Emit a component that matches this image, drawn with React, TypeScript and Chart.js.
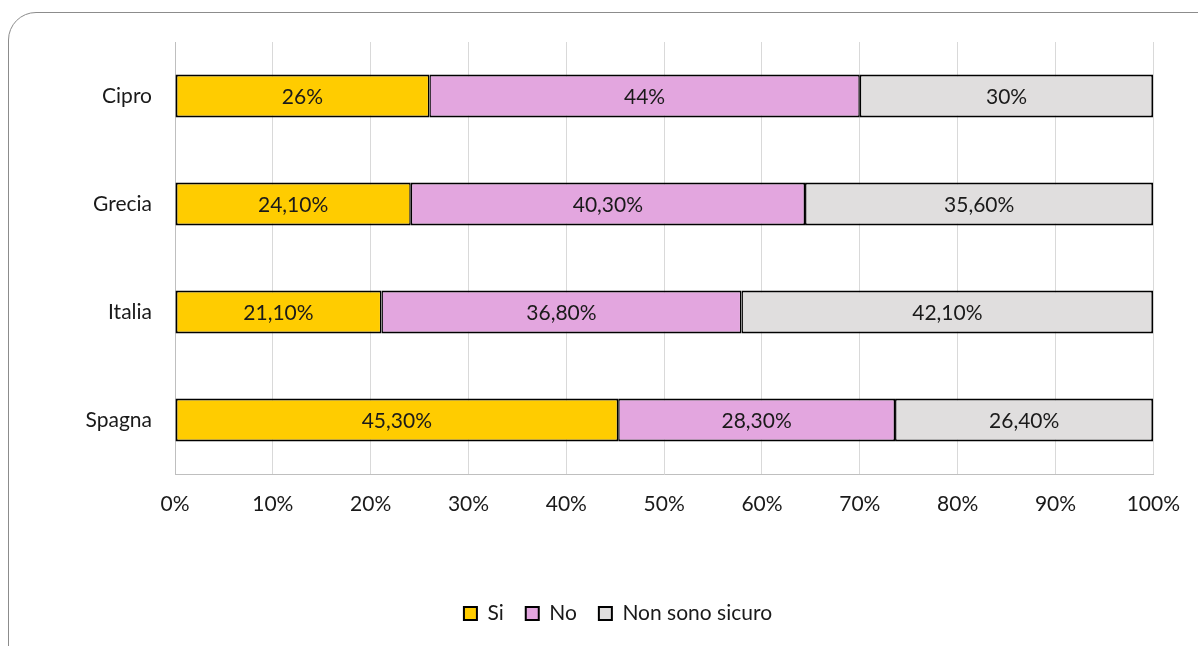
import { useEffect, useRef } from 'react';
import { Chart, registerables } from 'chart.js';

Chart.register(...registerables);

// Survey answers per country, in percent of respondents
const countries = ['Cipro', 'Grecia', 'Italia', 'Spagna'];
const siValues = [26, 24.1, 21.1, 45.3];
const noValues = [44, 40.3, 36.8, 28.3];
const nonSicuroValues = [30, 35.6, 42.1, 26.4];
const seriesNames = ['Si', 'No', 'Non sono sicuro'];
const seriesColors = ['#FFCC00', '#E3A6DF', '#E0DEDE'];

const FONT = 'Lato, "Open Sans", sans-serif';
const FONT_SIZE = 21;
const TEXT = '#1A1A1A';

// Italian style percentage: integers stay bare, others keep two decimals
const formatPercent = (v: number) =>
  Number.isInteger(v) ? `${v}%` : `${v.toFixed(2).replace('.', ',')}%`;

const segmentLabels = {
  id: 'segmentLabels',
  afterDatasetsDraw(chart: any) {
    const { ctx } = chart;
    ctx.save();
    ctx.font = `${FONT_SIZE}px ${FONT}`;
    ctx.fillStyle = TEXT;
    ctx.textAlign = 'center';
    ctx.textBaseline = 'middle';
    chart.data.datasets.forEach((ds: any, di: number) => {
      const meta = chart.getDatasetMeta(di);
      meta.data.forEach((el: any, i: number) => {
        const { x, y, base } = el.getProps(['x', 'y', 'base'], true);
        ctx.fillText(formatPercent(ds.data[i]), (x + base) / 2, y + 1);
      });
    });
    ctx.restore();
  },
};

// Centre the legend row under the whole frame rather than the plot column
const legendShift = {
  id: 'legendShift',
  afterLayout(chart: any) {
    const lg = chart.legend;
    if (!lg) return;
    lg.left += 40;
    lg.right += 40;
  },
};

export default function App() {
  const canvasRef = useRef<HTMLCanvasElement | null>(null);

  useEffect(() => {
    if (!canvasRef.current) return;
    const values = [siValues, noValues, nonSicuroValues];
    const edgeWidths = [
      { top: 2, bottom: 2, left: 2, right: 1.5 },
      { top: 2, bottom: 2, left: 1.5, right: 1.5 },
      { top: 2, bottom: 2, left: 1.5, right: 2 },
    ];
    const chart = new Chart(canvasRef.current, {
      type: 'bar',
      data: {
        labels: countries,
        datasets: seriesNames.map((name, i) => ({
          label: name,
          data: values[i],
          backgroundColor: seriesColors[i],
          borderColor: '#000000',
          borderWidth: edgeWidths[i],
          borderSkipped: false,
          categoryPercentage: 0.4,
          barPercentage: 1,
        })),
      },
      options: {
        indexAxis: 'y',
        animation: false,
        responsive: false,
        maintainAspectRatio: false,
        devicePixelRatio: 1,
        layout: { padding: { top: 42, right: 42, bottom: 12, left: 0 } },
        scales: {
          x: {
            stacked: true,
            min: 0,
            max: 100,
            ticks: {
              stepSize: 10,
              padding: 18,
              color: TEXT,
              font: { family: FONT, size: FONT_SIZE },
              callback: (v: any) => `${v}%`,
            },
            grid: { color: '#D9D9D9', lineWidth: 1, drawTicks: false },
            border: { color: '#BFBFBF', width: 1 },
            afterFit: (s: any) => {
              s.height = 107;
            },
          },
          y: {
            stacked: true,
            ticks: {
              padding: 23,
              color: TEXT,
              font: { family: FONT, size: FONT_SIZE },
            },
            grid: { display: false, drawTicks: false },
            border: { color: '#BFBFBF', width: 1 },
            afterFit: (s: any) => {
              s.width = 175;
            },
          },
        },
        plugins: {
          legend: {
            position: 'bottom',
            labels: {
              boxWidth: 13,
              boxHeight: 13,
              padding: 22,
              color: TEXT,
              font: { family: FONT, size: FONT_SIZE },
              generateLabels: (c: any) =>
                c.data.datasets.map((ds: any, i: number) => ({
                  text: ds.label,
                  fillStyle: ds.backgroundColor,
                  strokeStyle: '#000000',
                  lineWidth: 2,
                  fontColor: TEXT,
                  hidden: false,
                  datasetIndex: i,
                })),
            },
          },
          tooltip: { enabled: false },
        },
      },
      plugins: [segmentLabels, legendShift],
    });
    return () => chart.destroy();
  }, []);

  return (
    <div
      style={{
        position: 'fixed',
        left: 0,
        top: 0,
        width: 1198,
        height: 646,
        overflow: 'hidden',
        background: '#ffffff',
      }}
    >
      <div
        style={{
          position: 'absolute',
          left: 8,
          top: 12,
          width: 1260,
          height: 720,
          border: '1px solid #8C8C8C',
          borderRadius: 28,
        }}
      />
      <canvas
        ref={canvasRef}
        width={1198}
        height={646}
        style={{ position: 'absolute', left: 0, top: 0 }}
      />
    </div>
  );
}
